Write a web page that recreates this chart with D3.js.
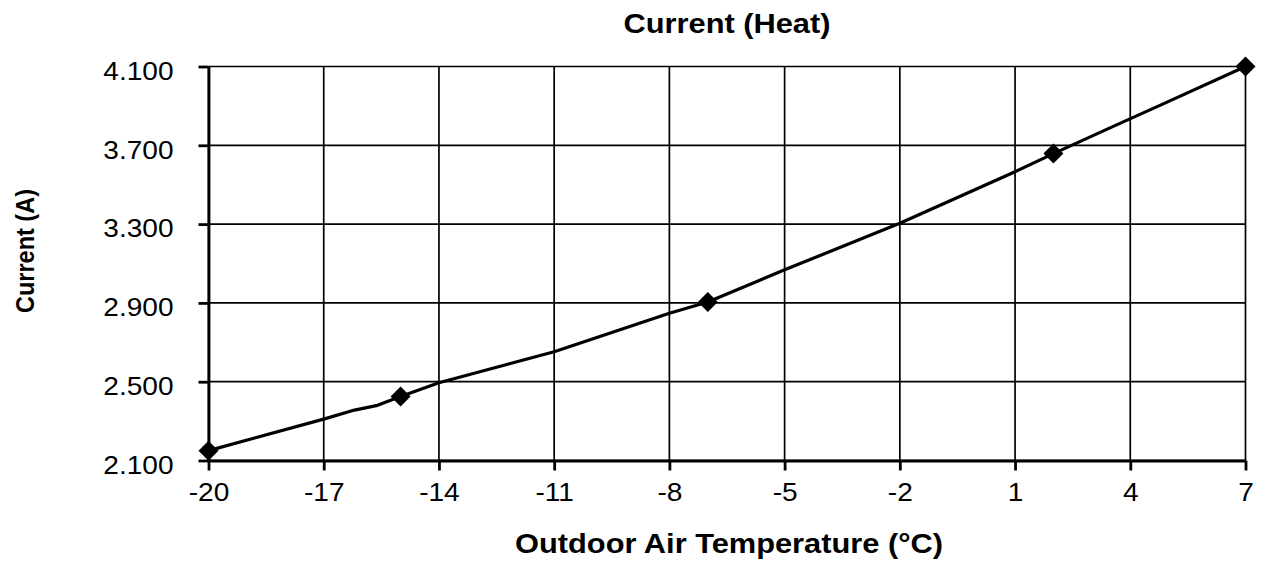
<!DOCTYPE html>
<html>
<head>
<meta charset="utf-8">
<script src="https://cdn.jsdelivr.net/npm/d3@7/dist/d3.min.js"></script>
<style>
  html, body { margin: 0; padding: 0; background: #fff; }
  svg { display: block; }
  text { font-family: "Liberation Sans", Arial, sans-serif; fill: #000; }
</style>
</head>
<body>
<svg id="chart" width="1267" height="569"></svg>
<script>
// Heat-mode current draw against outdoor air temperature
const lineTemps    = [-20, -17, -16.2, -15.6, -15, -14, -11, -8, -7, -5, -2, 1, 2, 3.6, 4.8, 7];
const lineCurrents = [2.15, 2.31, 2.356, 2.38, 2.425, 2.495, 2.652, 2.847, 2.905, 3.068, 3.304, 3.566, 3.658, 3.8, 3.905, 4.1];

// Rated test points shown with markers
const pointTemps    = [-20, -15, -7, 2, 7];
const pointCurrents = [2.15, 2.425, 2.905, 3.658, 4.1];

const xTicks = [-20, -17, -14, -11, -8, -5, -2, 1, 4, 7];
const yTicks = [2.1, 2.5, 2.9, 3.3, 3.7, 4.1];

const chartTitle = "Current (Heat)";
const xTitle = "Outdoor Air Temperature (°C)";
const yTitle = "Current (A)";

const svg = d3.select("#chart");
const plot = { left: 208.5, right: 1245.5, top: 66.5, bottom: 460.5 };
const sx = 1.1; // horizontal text stretch

const x = d3.scaleLinear().domain([-20, 7]).range([plot.left, plot.right]);
const y = d3.scaleLinear().domain([2.1, 4.1]).range([plot.bottom, plot.top]);

// gridlines
svg.append("g").selectAll("line").data(yTicks).join("line")
  .attr("x1", plot.left).attr("x2", plot.right)
  .attr("y1", d => y(d)).attr("y2", d => y(d))
  .attr("stroke", "#000").attr("stroke-width", 1.7);
svg.append("g").selectAll("line").data(xTicks).join("line")
  .attr("y1", plot.top).attr("y2", plot.bottom)
  .attr("x1", d => x(d)).attr("x2", d => x(d))
  .attr("stroke", "#000").attr("stroke-width", 1.7);

// axes
const xAxis = svg.append("g")
  .attr("transform", `translate(0,${plot.bottom})`)
  .call(d3.axisBottom(x).tickValues(xTicks).tickFormat(d => String(d)).tickSize(10).tickSizeOuter(0).tickPadding(12));
const yAxis = svg.append("g")
  .attr("transform", `translate(${plot.left},0)`)
  .call(d3.axisLeft(y).tickValues(yTicks).tickFormat(d3.format(".3f")).tickSize(10).tickSizeOuter(0).tickPadding(25));

[xAxis, yAxis].forEach(ax => {
  ax.select(".domain").attr("stroke", "#000").attr("stroke-width", 2.8);
  ax.selectAll(".tick line").attr("stroke", "#000").attr("stroke-width", 2.8);
  ax.selectAll(".tick text")
    .attr("font-family", "'Liberation Sans', Arial, sans-serif")
    .attr("font-size", 25.5)
    .attr("fill", "#000");
});
xAxis.selectAll(".tick text").attr("transform", `scale(${sx},1)`);
yAxis.selectAll(".tick text").attr("dy", "0.5em")
  .attr("transform", function () {
    const tx = +d3.select(this).attr("x");
    return `translate(${tx},0) scale(${sx},1) translate(${-tx},0)`;
  });

// data line
svg.append("path")
  .datum(d3.zip(lineTemps, lineCurrents))
  .attr("fill", "none")
  .attr("stroke", "#000")
  .attr("stroke-width", 3.2)
  .attr("stroke-linejoin", "round")
  .attr("d", d3.line().x(d => x(d[0])).y(d => y(d[1])));

// diamond markers
svg.append("g").selectAll("path")
  .data(d3.zip(pointTemps, pointCurrents)).join("path")
  .attr("d", d3.symbol(d3.symbolSquare, 200))
  .attr("transform", d => `translate(${x(d[0])},${y(d[1])}) rotate(45)`)
  .attr("fill", "#000");

// titles
svg.append("text")
  .attr("transform", `translate(${(plot.left + plot.right) / 2},33) scale(${sx},1)`)
  .attr("text-anchor", "middle").attr("font-weight", "bold").attr("font-size", 28)
  .text(chartTitle);
svg.append("text")
  .attr("transform", `translate(${(plot.left + plot.right) / 2 + 2},553) scale(${sx},1)`)
  .attr("text-anchor", "middle").attr("font-weight", "bold").attr("font-size", 28)
  .text(xTitle);
svg.append("text")
  .attr("transform", `translate(34,251) scale(${sx},1) rotate(-90)`)
  .attr("text-anchor", "middle").attr("font-weight", "bold").attr("font-size", 23.5)
  .text(yTitle);
</script>
</body>
</html>
